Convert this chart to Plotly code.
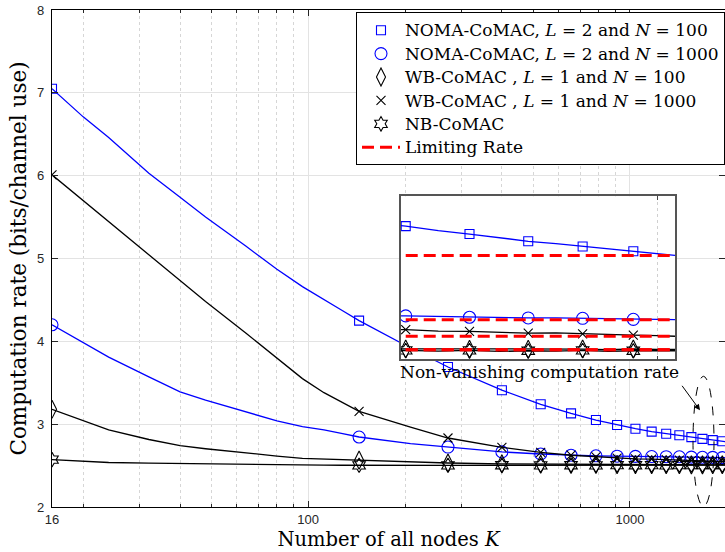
import math
import plotly.graph_objects as go

# ---------------- data ----------------
K_LINE = [16, 20, 24, 32, 40, 48, 64, 80, 96, 112, 128, 144, 208, 272, 400, 528, 656, 784,
          912, 1040, 1168, 1296, 1424, 1488, 1552, 1616, 1680, 1744, 1808, 1872, 1936, 2000, 2048]
K_MARK = [16, 144, 272, 400, 528, 656, 784, 912, 1040, 1168, 1296, 1424, 1552, 1680, 1808, 1936]

NOMA_L2_N100 = [7.05, 6.71, 6.46, 6.03, 5.74, 5.50, 5.15, 4.87, 4.66, 4.51, 4.37, 4.25, 3.92, 3.69,
                3.41, 3.24, 3.13, 3.05, 2.99, 2.945, 2.91, 2.885, 2.866, 2.853, 2.843, 2.833, 2.822,
                2.815, 2.807, 2.801, 2.793, 2.786, 2.781]
NOMA_L2_N1000 = [4.20, 3.985, 3.81, 3.57, 3.39, 3.29, 3.15, 3.04, 2.97, 2.93, 2.885, 2.845, 2.765,
                 2.724, 2.665, 2.64, 2.625, 2.618, 2.613, 2.611, 2.609, 2.607, 2.606, 2.604, 2.602,
                 2.601, 2.600, 2.600, 2.599, 2.598, 2.596, 2.595, 2.595]
WB_L1_N100 = [3.18, 3.04, 2.93, 2.815, 2.74, 2.703, 2.65, 2.615, 2.588, 2.58, 2.572, 2.565, 2.545,
              2.531, 2.52, 2.516, 2.514, 2.513, 2.512, 2.512, 2.511, 2.511, 2.510, 2.511, 2.509,
              2.511, 2.509, 2.510, 2.510, 2.508, 2.510, 2.509, 2.509]
WB_L1_N1000 = [6.01, 5.70, 5.45, 5.05, 4.74, 4.48, 4.10, 3.80, 3.55, 3.38, 3.26, 3.155, 2.965, 2.833,
               2.72, 2.66, 2.625, 2.605, 2.59, 2.582, 2.577, 2.571, 2.566, 2.562, 2.561, 2.558,
               2.556, 2.557, 2.554, 2.551, 2.550, 2.549, 2.547]
NB_COMAC = [2.572, 2.55, 2.537, 2.53, 2.524, 2.528, 2.518, 2.51, 2.505, 2.505, 2.504, 2.503, 2.504,
            2.503, 2.504, 2.503, 2.504, 2.503, 2.505, 2.504, 2.505, 2.503, 2.506, 2.504, 2.506,
            2.503, 2.505, 2.504, 2.506, 2.503, 2.505, 2.504, 2.505]
LIMIT_RATES = [2.781, 2.595, 2.547, 2.508, 2.508]

SERIES = [
    ("NOMA-CoMAC, <i>L</i> = 2 and <i>N</i> = 100", NOMA_L2_N100, "#0000ff", "square-open", 9),
    ("NOMA-CoMAC, <i>L</i> = 2 and <i>N</i> = 1000", NOMA_L2_N1000, "#0000ff", "circle-open", 12),
    ("WB-CoMAC , <i>L</i> = 1 and <i>N</i> = 100", WB_L1_N100, "#000000", "diamond-tall-open", 13),
    ("WB-CoMAC , <i>L</i> = 1 and <i>N</i> = 1000", WB_L1_N1000, "#000000", "x-thin-open", 9),
    ("NB-CoMAC", NB_COMAC, "#000000", "hexagram-open", 11),
]

SERIF = "DejaVu Serif"
SANS = "Liberation Sans"


def legend_label(text):
    return '<span style="font-size:17px">' + text + "</span>"


fig = go.Figure()

for axes, show in (("main", True), ("inset", False)):
    xa, ya = ("x", "y") if axes == "main" else ("x2", "y2")
    for name, vals, color, sym, size in SERIES:
        fig.add_trace(go.Scatter(x=K_LINE, y=vals, mode="lines", xaxis=xa, yaxis=ya,
                                 line=dict(color=color, width=1.3), showlegend=False,
                                 hoverinfo="skip"))
        lookup = dict(zip(K_LINE, vals))
        fig.add_trace(go.Scatter(x=K_MARK, y=[lookup[k] for k in K_MARK], mode="markers",
                                 xaxis=xa, yaxis=ya, name=legend_label(name), showlegend=show,
                                 marker=dict(symbol=sym, size=size, color=color,
                                             line=dict(color=color, width=1.1))))

# limiting rates (inset only)
for i, lim in enumerate(LIMIT_RATES):
    fig.add_trace(go.Scatter(x=[K_LINE[22], K_LINE[-1]], y=[lim, lim], mode="lines",
                             xaxis="x2", yaxis="y2", name=legend_label("Limiting Rate"),
                             showlegend=(i == 0),
                             line=dict(color="#ff0000", width=3, dash="12px,6px")))

X_LEFT, X_RIGHT = 16, 1974
minor_vals = [20, 30, 40, 50, 60, 70, 80, 90, 200, 300, 400, 500, 600, 700, 800, 900]

fig.update_layout(
    width=725, height=552,
    margin=dict(l=52, r=0, t=10, b=45, autoexpand=False),
    paper_bgcolor="white", plot_bgcolor="white",
    font=dict(family=SERIF, color="#000000"),
    xaxis=dict(type="log", range=[math.log10(X_LEFT), math.log10(X_RIGHT)],
               domain=[0, 1], tickmode="array", tickvals=[16, 100, 1000],
               ticktext=["16", "100", "1000"], ticks="inside", ticklen=6,
               tickcolor="#262626", showline=True, linecolor="#000000", linewidth=1.2,
               mirror="ticks", showgrid=True, gridcolor="#e3e3e3", gridwidth=1,
               zeroline=False,
               tickfont=dict(family=SANS, size=13, color="#262626"),
               minor=dict(tickmode="array", tickvals=minor_vals, ticks="inside", ticklen=3,
                          tickcolor="#262626", showgrid=True, gridcolor="#d6d6d6",
                          griddash="dot", gridwidth=1),
               title=dict(text="Number of all nodes <i>K</i>", font=dict(family=SERIF, size=19.5),
                          standoff=6)),
    yaxis=dict(range=[2, 8], domain=[0, 1], dtick=1, ticks="inside", ticklen=6,
               tickcolor="#262626", showline=True, linecolor="#000000", linewidth=1.2,
               mirror="ticks", showgrid=True, gridcolor="#e3e3e3", gridwidth=1,
               zeroline=False, ticklabelstandoff=4,
               tickfont=dict(family=SANS, size=13, color="#262626"),
               title=dict(text="Computation rate (bits/channel use)",
                          font=dict(family=SERIF, size=21.5), standoff=4)),
    xaxis2=dict(type="log", range=[math.log10(1415), math.log10(2048)],
                domain=[0.5186, 0.9257], anchor="y2", tickmode="array", tickvals=[2000],
                showticklabels=False, ticks="inside", ticklen=4, tickcolor="#444444",
                showline=True, linecolor="#555555", linewidth=1.5, mirror="ticks",
                showgrid=True, gridcolor="#d0d0d0", griddash="dot", zeroline=False),
    yaxis2=dict(range=[2.48, 2.952], domain=[0.297, 0.625], anchor="x2",
                showticklabels=False, ticks="", showline=True, linecolor="#555555",
                linewidth=1.5, mirror=True, showgrid=False, zeroline=False),
    legend=dict(x=0.4517, y=0.995, xanchor="left", yanchor="top",
                bgcolor="white", bordercolor="#000000", borderwidth=1,
                font=dict(family=SERIF, size=15.7, color="#000000"),
                itemwidth=38, tracegroupgap=0),
    showlegend=True,
)

# annotation text + arrow
fig.add_annotation(xref="paper", yref="paper", x=(539 - 52) / 673, y=(506.7 - 372) / 497,
                   xanchor="center", yanchor="middle",
                   text="Non-vanishing computation rate", showarrow=False,
                   font=dict(family=SERIF, size=17, color="#000000"))
fig.add_annotation(xref="paper", yref="paper", x=(700 - 52) / 673, y=(506.7 - 410) / 497,
                   ax=-19, ay=-26, axref="pixel", ayref="pixel",
                   text="", showarrow=True, arrowhead=2, arrowsize=1.2, arrowwidth=1,
                   arrowcolor="#000000")
fig.add_shape(type="circle", xref="paper", yref="paper",
              x0=(693 - 52) / 673, x1=(714 - 52) / 673,
              y0=(506.7 - 506) / 497, y1=(506.7 - 376) / 497,
              line=dict(color="#000000", width=1, dash="dash"))

fig.write_html("out.html")
